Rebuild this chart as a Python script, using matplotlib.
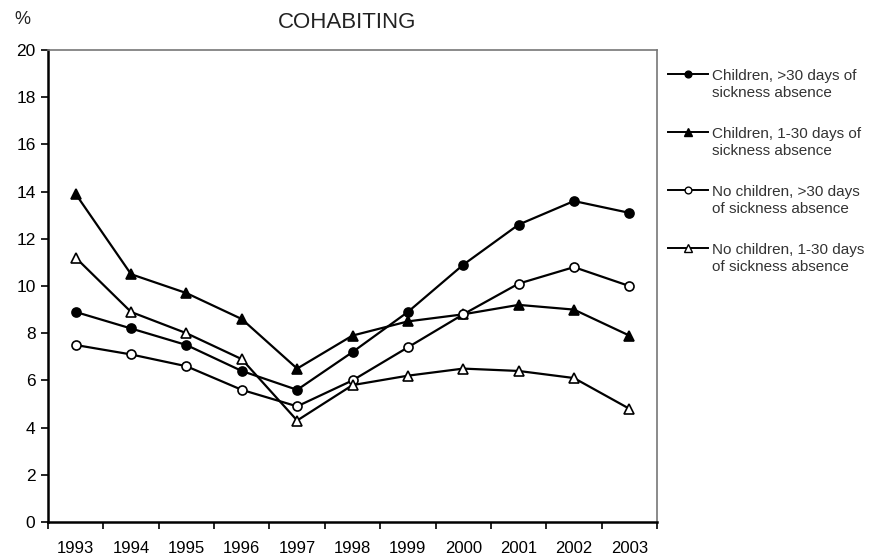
import matplotlib.pyplot as plt
from matplotlib.lines import Line2D
import numpy as np

plt.rcParams['font.family'] = ['Liberation Sans', 'DejaVu Sans']

years = [1993, 1994, 1995, 1996, 1997, 1998, 1999, 2000, 2001, 2002, 2003]

kids_long  = [8.9, 8.2, 7.5, 6.4, 5.6, 7.2, 8.9, 10.9, 12.6, 13.6, 13.1]
kids_short = [13.9, 10.5, 9.7, 8.6, 6.5, 7.9, 8.5, 8.8, 9.2, 9.0, 7.9]
none_long  = [7.5, 7.1, 6.6, 5.6, 4.9, 6.0, 7.4, 8.8, 10.1, 10.8, 10.0]
none_short = [11.2, 8.9, 8.0, 6.9, 4.3, 5.8, 6.2, 6.5, 6.4, 6.1, 4.8]

labels = ['Children, >30 days of\nsickness absence',
          'Children, 1-30 days of\nsickness absence',
          'No children, >30 days\nof sickness absence',
          'No children, 1-30 days\nof sickness absence']

fig = plt.figure(figsize=(8.74, 5.58), dpi=100)
ax = fig.add_axes([48/874, 1 - 522/558, (657-48)/874, (522-50)/558])

x = np.arange(len(years))
styles = [('o', 'black', 6.5), ('^', 'black', 7.5), ('o', 'white', 6.5), ('^', 'white', 7.5)]
series = [kids_long, kids_short, none_long, none_short]
for vals, (m, fc, ms) in zip(series, styles):
    ax.plot(x, vals, '-', marker=m, color='black', lw=1.6, ms=ms, mfc=fc, mew=1.2)

ax.set_xlim(-0.5, len(years) - 0.5)
ax.set_ylim(0, 20)
ax.set_yticks(range(0, 21, 2))
ax.set_xticks(x)
ax.set_xticklabels([str(y) for y in years], fontsize=12)
ax.set_xticks(np.arange(-0.5, len(years)), minor=True)
ax.tick_params(axis='x', which='major', length=0, pad=14)
ax.tick_params(axis='x', which='minor', length=5, width=1.2, direction='out')
ax.tick_params(axis='y', length=5, width=1.2, labelsize=12.5, pad=4)

ax.spines['left'].set_linewidth(1.8)
ax.spines['bottom'].set_linewidth(1.8)
for s in ['top', 'right']:
    ax.spines[s].set_color('#777777')
    ax.spines[s].set_linewidth(1.2)

fig.text(347/874, 1 - 23/558, 'COHABITING', ha='center', va='center', fontsize=16,
         color='#222222')
fig.text(22/874, 1 - 20/558, '%', ha='center', va='center', fontsize=13,
         color='#222222')

# legend drawn by hand so the handle sits on the first text line
for i, (lab, (m, fc, ms)) in enumerate(zip(labels, styles)):
    ypx = 74 + 58 * i
    yy = 1 - ypx / 558
    fig.add_artist(Line2D([668/874, 708/874], [yy, yy], color='black', lw=1.4))
    fig.add_artist(Line2D([688/874], [yy], color='black', marker=m, ms=ms * 0.75,
                          mfc=fc, mew=1.0, lw=0))
    fig.text(712/874, 1 - (ypx + 10.5) / 558, lab, ha='left', va='center',
             fontsize=11, color='#333333', linespacing=1.35)

fig.savefig('out.png', dpi=100)
